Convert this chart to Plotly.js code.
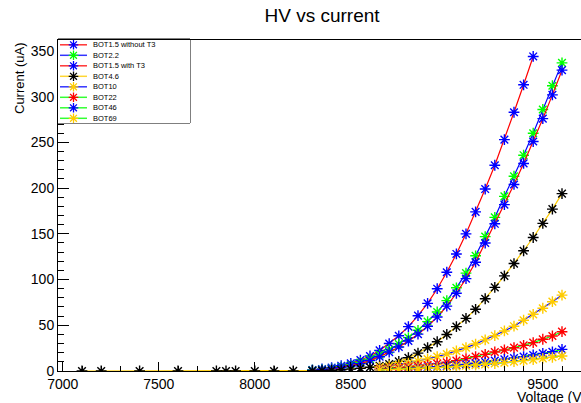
<!DOCTYPE html>
<html>
<head>
<meta charset="utf-8">
<script src="https://cdn.plot.ly/plotly-3.0.1.min.js"></script>
<style>
  html, body { margin: 0; padding: 0; background: #ffffff; }
  #chart { width: 581px; height: 403px; }
</style>
</head>
<body>
<div id="chart"></div>
<script>
// HV scan: anode current (uA) against applied high voltage (V) for each bottom setting.

// Common voltage steps of the scan (V)
const voltage = [8300, 8350, 8400, 8450, 8500, 8550, 8600, 8650, 8700, 8750,
                 8800, 8850, 8900, 8950, 9000, 9050, 9100, 9150, 9200, 9250,
                 9300, 9350, 9400, 9450, 9500, 9550, 9600];

// BOT4.6 was also scanned at lower voltages (V)
const voltageBOT4p6 = [7100, 7200, 7400, 7600, 7800, 7850, 7900, 8000, 8100, 8200,
                       8300, 8350, 8400, 8450, 8500, 8550, 8600, 8650, 8700, 8750,
                       8800, 8850, 8900, 8950, 9000, 9050, 9100, 9150, 9200, 9250,
                       9300, 9350, 9400, 9450, 9500, 9550, 9600];

// Currents (uA); null = not measured at that voltage
const bot1p5NoT3 = [1.1, 2.2, 3.7, 5.8, 8.4, 12, 16.4, 22.5, 30, 38.5,
                    48.5, 60.5, 74, 90, 108, 128, 150, 174, 199, 225,
                    253, 283, 313, 344, null, null, null];
const bot2p2 = [0.8, 1.6, 2.7, 4.3, 6.5, 9.3, 13, 17.8, 23.3, 29.5,
                36.5, 44.5, 54, 64.5, 77, 91, 107, 126, 147, 168,
                191, 213, 236, 260, 286, 312, 337];
const bot1p5T3 = [0.6, 1.3, 2.3, 3.7, 5.6, 8.1, 11.4, 15.6, 20.6, 26.3,
                  32.8, 40.3, 49, 59, 71, 85, 101, 119, 140, 161,
                  182, 204, 227, 251, 276, 302, 329];
const bot4p6 = [0, 0, 0, 0, 0, 0, 0, 0, 0, 0.1,
                0.3, 0.5, 0.8, 1.3, 2, 2.9, 4.1, 5.7, 7.6, 10.5,
                14.5, 19.5, 25.5, 32, 40, 48.5, 57.5, 67.5, 79, 91.5,
                104, 117.5, 131.5, 146, 161.5, 177, 194];
const bot10 = [null, null, null, null, null, null, null, 4.2, 5.5, 7,
               8.7, 10.9, 13.1, 15.7, 18.6, 21.9, 25.5, 29.5, 34, 38.6,
               43.8, 49, 55.5, 62, 68.6, 75.8, 83];
const bot22 = [null, null, null, null, null, null, null, 2.1, 2.7, 3.5,
               4.4, 5.4, 6.6, 8, 9.5, 11.3, 13.5, 15.7, 18.2, 20.8,
               23, 25.5, 28, 31, 34.7, 38.3, 43];
const bot46 = [null, null, null, null, null, null, null, 1.4, 1.8, 2.2,
               2.7, 3.3, 3.9, 4.6, 5.4, 6.3, 7.3, 8.4, 9.8, 11.3,
               12.8, 14.2, 15.7, 17.5, 19.3, 21, 23.7];
const bot69 = [null, null, null, null, null, null, null, 1.2, 1.5, 1.9,
               2.3, 2.7, 3.2, 3.7, 4.3, 5, 5.7, 6.5, 7.3, 8.2,
               9.2, 10.2, 11.3, 12.5, 13.7, 15, 16.4];

const seriesNames = ['BOT1.5 without T3', 'BOT2.2', 'BOT1.5 with T3', 'BOT4.6',
                     'BOT10', 'BOT22', 'BOT46', 'BOT69'];
const seriesVoltages = [voltage, voltage, voltage, voltageBOT4p6,
                        voltage, voltage, voltage, voltage];
const seriesCurrents = [bot1p5NoT3, bot2p2, bot1p5T3, bot4p6, bot10, bot22, bot46, bot69];

// Styling
const lineColors   = ['#ff0000', '#0000ff', '#ff0000', '#ffcc00', '#0000ff', '#00ff00', '#00ff00', '#00ff00'];
const markerColors = ['#0000ff', '#00ff00', '#0000ff', '#000000', '#ffcc00', '#ff0000', '#0000ff', '#ffcc00'];
const FONT = 'Liberation Sans, Arial, Helvetica, sans-serif';

// Frame geometry (pixels)
const W = 581, H = 403;
const M = { l: 58, r: 0, t: 40, b: 32 };
const plotW = W - M.l - M.r, plotH = H - M.t - M.b;
const px2paperX = px => (px - M.l) / plotW;
const py2paperY = py => (H - M.b - py) / plotH;

const traces = seriesNames.map((name, i) => ({
  type: 'scatter',
  mode: 'lines+markers',
  name: name,
  x: seriesVoltages[i],
  y: seriesCurrents[i],
  line: { color: lineColors[i], width: 1.2 },
  marker: { symbol: 'asterisk-open', size: 9, color: markerColors[i],
            line: { color: markerColors[i], width: 1.4 } },
  connectgaps: false,
  showlegend: false,
  hoverinfo: 'x+y+name'
}));

// Legend box drawn on its own pixel-scaled overlay axes
const legBox = { x0: 58, x1: 190, y0: 39, y1: 123 };
const legRow0 = 44.8, legStep = 10.5;
const legendAnnotations = [];
seriesNames.forEach((name, k) => {
  const yk = legRow0 + legStep * k;
  traces.push({
    type: 'scatter', mode: 'lines', xaxis: 'x2', yaxis: 'y2',
    x: [60, 87], y: [yk, yk],
    line: { color: lineColors[k], width: 1.5 }, opacity: 0.8,
    showlegend: false, hoverinfo: 'skip'
  });
  traces.push({
    type: 'scatter', mode: 'markers', xaxis: 'x2', yaxis: 'y2',
    x: [73.5], y: [yk],
    marker: { symbol: 'asterisk-open', size: 8, color: markerColors[k],
              line: { color: markerColors[k], width: 1.3 } },
    showlegend: false, hoverinfo: 'skip'
  });
  legendAnnotations.push({
    xref: 'x2', yref: 'y2', x: 91, y: yk,
    xanchor: 'left', yanchor: 'middle', showarrow: false,
    text: name, font: { family: FONT, size: 7.5, color: '#000' }
  });
});

const layout = {
  width: W, height: H,
  margin: M,
  paper_bgcolor: '#ffffff',
  plot_bgcolor: '#ffffff',
  font: { family: FONT, color: '#000' },
  showlegend: false,
  title: {
    text: 'HV vs current',
    font: { family: FONT, size: 19, color: '#000' },
    xref: 'container', yref: 'container',
    x: 322 / W, xanchor: 'center',
    y: 1 - 15 / H, yanchor: 'middle'
  },
  xaxis: {
    range: [6975, 6975 + plotW / 0.192],
    showgrid: false, zeroline: false,
    showline: true, linecolor: '#000', linewidth: 1, mirror: true,
    ticks: 'inside', ticklen: 9, tickwidth: 1, tickcolor: '#000',
    tick0: 7000, dtick: 500, tickformat: 'd',
    tickfont: { family: FONT, size: 14, color: '#000' },
    minor: { tick0: 7000, dtick: 100, ticks: 'inside', ticklen: 5, tickcolor: '#000' }
  },
  yaxis: {
    range: [0, 362],
    showgrid: false, zeroline: false,
    showline: true, linecolor: '#000', linewidth: 1, mirror: false,
    ticks: 'inside', ticklen: 11, tickwidth: 1, tickcolor: '#000',
    tick0: 0, dtick: 50,
    tickfont: { family: FONT, size: 14, color: '#000' },
    minor: { tick0: 0, dtick: 10, ticks: 'inside', ticklen: 6, tickcolor: '#000' }
  },
  xaxis2: {
    domain: [0, px2paperX(legBox.x1)], range: [legBox.x0, legBox.x1],
    anchor: 'y2', visible: false, fixedrange: true
  },
  yaxis2: {
    domain: [py2paperY(legBox.y1), 1], range: [legBox.y1, M.t],
    anchor: 'x2', visible: false, fixedrange: true
  },
  shapes: [{
    type: 'rect', xref: 'paper', yref: 'paper', layer: 'below',
    x0: px2paperX(legBox.x0), x1: px2paperX(legBox.x1),
    y0: py2paperY(legBox.y1), y1: py2paperY(legBox.y0),
    line: { color: '#000', width: 1 }, fillcolor: '#ffffff'
  }],
  annotations: legendAnnotations.concat([
    {
      xref: 'paper', yref: 'paper',
      x: px2paperX(588), y: py2paperY(397),
      xanchor: 'right', yanchor: 'middle', showarrow: false,
      text: 'Voltage (V)', font: { family: FONT, size: 14, color: '#000' }
    },
    {
      xref: 'paper', yref: 'paper',
      x: px2paperX(19), y: 1,
      xanchor: 'center', yanchor: 'top', showarrow: false, textangle: -90,
      text: 'Current (uA)', font: { family: FONT, size: 13, color: '#000' }
    }
  ])
};

Plotly.newPlot('chart', traces, layout, { staticPlot: true, displayModeBar: false });
</script>
</body>
</html>
